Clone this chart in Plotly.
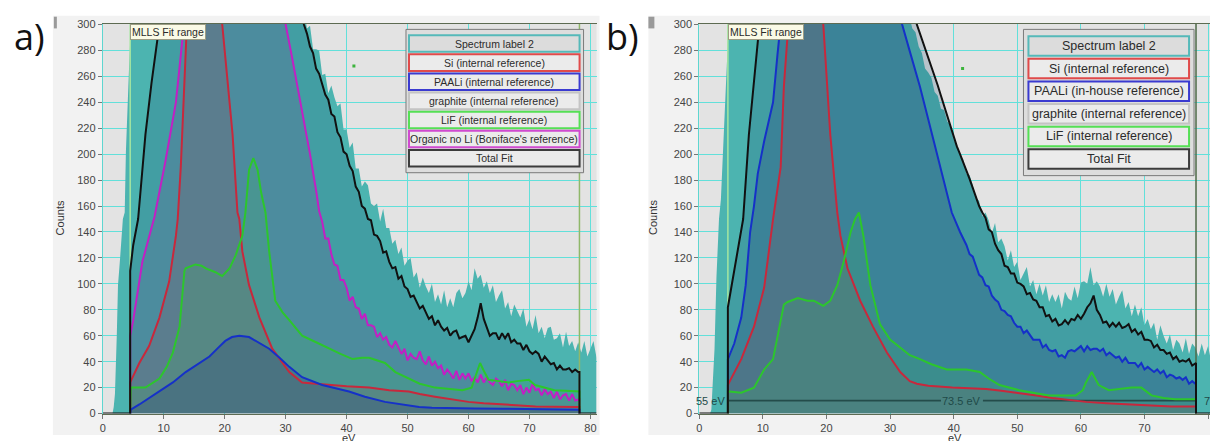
import numpy as np
import plotly.graph_objects as go

W, H = 1210, 441

# ---------------------------------------------------------------- panel a
A_FIT_RANGE = [4.5, 78.2]

A_SPEC_EV = [0, 1.6, 1.8, 2.0, 2.3, 2.5, 2.8, 3.3, 3.6, 3.8, 4.3, 4.6, 5.0, 10, 20, 30]
A_SPEC_CT = [0, 0, 5, 15, 60, 99, 117, 150, 155, 202, 265, 300, 400, 900, 1500, 520]
A_SPEC_TAIL_START = 33.0
A_SPEC_TAIL = [312, 297, 299, 281, 281, 280, 261, 262, 247, 253, 244, 237, 239, 219, 219, 205,
               209, 189, 189, 175, 179, 176, 162, 160, 162, 148, 158, 143, 143, 131, 134, 123,
               128, 114, 118, 120, 105, 109, 97, 105, 98, 93, 100, 86, 92, 84, 95, 82, 89, 82,
               93, 96, 89, 93, 102, 95, 112, 104, 107, 97, 102, 93, 99, 86, 91, 95, 81, 86, 75,
               84, 79, 74, 81, 67, 73, 65, 76, 62, 67, 58, 66, 67, 57, 58, 62, 51, 63, 52, 56,
               48, 55, 47, 56, 44, 50, 56, 43]

A_TOTAL_EV = [0, 4.5, 4.5, 5.0, 5.8, 7.0, 8.0, 9.3, 12, 20, 28]
A_TOTAL_CT = [0, 0, 110, 130, 150, 215, 255, 300, 430, 650, 420]
A_TOTAL_TAIL_START = 33.0
A_TOTAL_TAIL = [300, 293, 283, 278, 266, 262, 254, 246, 242, 231, 229, 217, 213, 202, 200, 191,
                187, 175, 171, 160, 158, 150, 149, 138, 137, 133, 124, 125, 117, 112, 113, 104,
                106, 98, 96, 90, 91, 86, 81, 83, 78, 73, 75, 68, 72, 67, 64, 66, 60, 63, 64, 58,
                59, 60, 55, 60, 65, 74, 85, 73, 67, 60, 62, 62, 57, 62, 58, 62, 55, 57, 54, 54,
                49, 53, 48, 46, 48, 46, 40, 44, 41, 38, 39, 34, 37, 34, 34, 35, 32, 34, 32]

A_ORG_EV = [4.5, 4.5, 5.0, 6.5, 8.5, 10.3, 12.0, 13.1, 13.5, 20, 27, 30, 31, 32, 33, 34, 35, 35.5]
A_ORG_CT = [0, 60, 72, 117, 152, 195, 240, 290, 300, 600, 420, 300, 276, 251, 226, 200, 172, 156]
A_ORG_TAIL_START = 36.0
A_ORG_TAIL = [148, 135, 135, 123, 115, 114, 103, 103, 97, 87, 90, 82, 81, 73, 77, 68, 68, 67, 59,
              62, 57, 59, 53, 51, 56, 51, 46, 50, 41, 46, 43, 42, 48, 41, 38, 44, 37, 40, 35, 37,
              30, 34, 31, 27, 33, 26, 31, 27, 31, 25, 28, 24, 30, 24, 28, 24, 22, 27, 25, 21, 26,
              18, 23, 22, 18, 22, 15, 20, 16, 23, 18, 19, 14, 19, 15, 17, 12, 17, 11, 14, 15, 10,
              15, 10, 11]

A_SI_EV = [4.5, 4.5, 6.0, 7.6, 9.3, 10.9, 12.0, 12.3, 12.8, 13.5, 13.8, 16, 18, 19.6, 21.3, 22.1,
           22.4, 22.9, 24, 25.7, 27.8, 30.6, 32.7, 35, 37.1, 40, 43.7, 47, 50.2, 52, 54.5, 57, 60,
           62.5, 65.5, 68, 71, 74, 78]
A_SI_CT = [0, 24, 39, 52, 74, 102, 137, 150, 190, 265, 300, 450, 400, 300, 215, 155, 150, 125, 99,
           74, 50, 32, 24, 23, 22, 21, 20, 18, 17, 15, 13, 11, 9, 8, 7, 6.5, 5.5, 5.3, 5]

A_PAALI_EV = [4.5, 4.6, 6.0, 8.2, 9.8, 11.5, 13.6, 15.5, 17.5, 19.0, 20.1, 21.2, 22.4, 24.0, 25.5,
              27.3, 29, 30.6, 32.7, 36, 40.4, 43, 46.3, 49, 51.9, 54, 57.3, 61, 65.5, 70, 74, 78]
A_PAALI_CT = [0, 3, 7, 14, 19, 24, 32, 38, 44, 51, 56, 59, 60, 59, 55, 50, 43, 36, 28, 22, 17, 13,
              9, 7, 5, 4.5, 4, 3.8, 3.7, 3.4, 3.2, 3]

A_LIF_EV = [4.5, 4.6, 7, 9.3, 10.5, 11.5, 12.6, 13.4, 13.6, 15.2, 16.2, 16.9, 18.5, 19.6, 20.8,
            21.8, 22.9, 23.4, 24.0, 24.7, 25.4, 26.0, 26.7, 27.3, 28.3, 29.5, 30.6, 32.7, 35, 37.1,
            39, 41, 42.5, 43.7, 45, 46.3, 48, 50.2, 52, 54.5, 57, 59, 60.5, 61.0, 61.4, 61.9, 62.5,
            63.3, 65, 66.6, 68, 69.5, 69.9, 70.9, 72.5, 74.1, 76, 78]
A_LIF_CT = [0, 20, 20, 27, 36, 47, 67, 110, 112, 115, 114, 112, 109, 106, 112, 122, 137, 155, 188,
            197, 188, 170, 155, 125, 87, 78, 72, 60, 55, 50, 46, 42, 43, 43, 41, 39, 32, 27, 23,
            20, 19, 18, 20, 27, 32, 39, 33, 26, 25, 24, 25, 26, 26, 22, 20, 18, 17.5, 17]

A_DOT = ([41.2], [268])

# ---------------------------------------------------------------- panel b
B_FIT_RANGE = [4.5, 78.1]

B_SPEC_EV = [0, 1.7, 1.9, 2.4, 2.7, 3.1, 3.4, 3.9, 4.5, 4.8, 10, 20, 30]
B_SPEC_CT = [0, 0, 3, 50, 105, 150, 165, 227, 290, 330, 900, 1500, 520]
B_SPEC_TAIL_START = 33.0
B_SPEC_TAIL = [307, 297, 294, 283, 278, 266, 263, 259, 248, 245, 235, 234, 225, 223, 211, 207,
               199, 196, 185, 184, 176, 166, 164, 152, 155, 149, 139, 147, 132, 135, 129, 118,
               126, 113, 117, 103, 108, 113, 98, 103, 92, 100, 91, 99, 86, 92, 86, 92, 81, 94,
               89, 87, 98, 89, 101, 102, 100, 113, 99, 102, 98, 90, 100, 90, 96, 84, 90, 95, 81,
               86, 75, 84, 75, 82, 68, 73, 65, 70, 57, 68, 60, 54, 61, 49, 57, 54, 47, 58, 46,
               54, 51, 44, 54, 45, 52, 40, 47]

B_TOTAL_EV = [0, 4.5, 4.5, 5.3, 6.1, 6.9, 7.8, 9.2, 9.5, 12, 20, 28]
B_TOTAL_CT = [0, 0, 82, 105, 125, 150, 215, 290, 300, 430, 650, 420]
B_TOTAL_TAIL_START = 34.0
B_TOTAL_TAIL = [303, 296, 289, 282, 275, 268, 261, 253, 245, 237, 229, 221, 213, 206, 200, 194,
                188, 181, 174, 167, 160, 155,
                151, 142, 140, 131, 126, 123, 114, 113, 108, 108, 101, 100, 98, 92, 93, 88, 87,
                82, 82, 75, 76, 71, 73, 68, 69, 72, 69, 73, 72, 76, 73, 77, 82, 85, 91, 80, 76,
                70, 71, 67, 70, 67, 70, 66, 67, 69, 63, 65, 61, 63, 57, 57, 56, 51, 53, 49, 49,
                46, 47, 42, 44, 40, 41, 40, 42, 37, 39]

B_PAALI_EV = [4.5, 4.5, 5.5, 6.6, 7.3, 8.0, 8.6, 9.2, 10.2, 11.6, 12.3, 12.8, 20, 28, 31.9, 33,
              34.7, 36, 37.3, 38.5, 39.7, 41]
B_PAALI_CT = [0, 42, 54, 74, 99, 140, 160, 185, 210, 240, 277, 300, 650, 420, 300, 281, 252, 227,
              202, 177, 155, 140]
B_PAALI_TAIL_START = 42.0
B_PAALI_TAIL = [130, 123, 121, 114, 107, 105, 99, 98, 91, 88, 86, 80, 79, 76, 75, 70, 67, 67, 62,
                64, 60, 57, 57, 57, 51, 53, 49, 48, 49, 44, 45, 43, 48, 49, 48, 50, 52, 48, 52,
                49, 50, 50, 48, 50, 45, 47, 45, 43, 44, 40, 43, 39, 39, 39, 36, 39, 34, 36, 34,
                32, 34, 31, 33, 28, 30, 29, 27, 28, 26, 28, 23, 25, 23]

B_SI_EV = [4.5, 4.5, 4.7, 6.6, 8.6, 10.2, 11.6, 12.8, 13.3, 13.9, 16.5, 19.5, 20.6, 21.7, 22.2,
           23.3, 25.3, 27.3, 29.5, 31.6, 33.1, 34.2, 36, 39.8, 42.5, 45.1, 47.5, 50.3, 53, 55.5,
           58, 60.8, 64, 68, 71, 74.2, 78]
B_SI_CT = [0, 22, 24, 42, 67, 97, 150, 190, 252, 300, 470, 300, 215, 155, 137, 112, 87, 67, 47,
           32, 25, 23, 21.5, 20, 19.5, 19, 17.5, 16, 14, 12, 10.5, 9, 8, 7, 6.5, 5.5, 5.5]

B_LIF_EV = [4.5, 4.5, 4.7, 6.6, 8.6, 10.2, 11.6, 12.3, 13.3, 13.9, 15.5, 17, 18, 19.5, 20.6, 21.7,
            22.7, 23.8, 24.5, 25.1, 25.8, 26.9, 28.4, 30, 31.6, 33.1, 34.7, 36.5, 38.9, 42, 44.1,
            45.5, 47.2, 50.3, 52.5, 55, 57, 59.2, 60.3, 60.8, 61.7, 62.3, 62.8, 64.4, 66, 68,
            69.5, 70.3, 71.1, 73, 74.8, 78]
B_LIF_CT = [0, 17, 17, 16, 20, 34, 42, 59, 84, 86, 89, 87, 87, 83, 87, 99, 117, 140, 150, 155,
            137, 99, 69, 57, 51, 45, 42, 38, 34, 34, 32, 27, 22, 18, 16, 14, 14, 14, 18, 24, 32,
            27, 22, 18, 19, 20, 20, 17, 14, 12, 11, 11]

B_DOT = ([41.4], [266])

# energy-window readout drawn across panel b
B_WINDOW_Y = 10
B_WINDOW_GAP = [38.0, 44.6]
B_WINDOW_LABELS = ["55 eV", "73.5 eV", "78 eV"]

LEGEND_A = ["Spectrum label 2", "Si (internal reference)", "PAALi (internal reference)",
            "graphite (internal reference)", "LiF (internal reference)",
            "Organic no Li (Boniface's reference)", "Total Fit"]
LEGEND_A_EDGE = ["#55b9b9", "#e04a4a", "#3a3ad0", "#c4c4c4", "#55e055", "#d04ad0", "#3c3c3c"]
LEGEND_B = ["Spectrum label 2", "Si (internal reference)", "PAALi (in-house reference)",
            "graphite (internal reference)", "LiF (internal reference)", "Total Fit"]
LEGEND_B_EDGE = ["#55b9b9", "#e04a4a", "#3a3ad0", "#c4c4c4", "#55e055", "#3c3c3c"]

# ---------------------------------------------------------------- styles
SPEC_FILL = "rgb(76,180,176)"
TOTAL_FILL = "rgba(30,80,120,0.22)"
ORG_FILL = "rgba(120,60,140,0.18)"
SI_FILL = "rgba(160,60,70,0.18)"
LIF_FILL = "rgba(60,200,80,0.15)"
PAALI_FILL = "rgba(40,50,120,0.25)"

TOTAL_LINE = "#111111"
ORG_LINE = "#c21fc4"
SI_LINE = "#c8283c"
LIF_LINE = "#2cc62c"
PAALI_LINE = "#1531c8"

FONT = "Liberation Sans"
GRID = "#62e0da"


def with_tail(head_x, head_y, start, tail, end_x=None):
    """Join a hand-read head with a 0.5 eV sampled tail; optionally drop to zero at end_x."""
    tx = start + 0.5 * np.arange(len(tail))
    x = list(head_x) + list(tx)
    y = list(head_y) + list(tail)
    if end_x is not None:
        x += [end_x, end_x]
        y += [tail[-1], 0]
    return x, y


def closed(x, y, end_x):
    return list(x) + [end_x, end_x], list(y) + [y[-1], 0]


def fill_tr(x, y, color, xa, ya):
    return go.Scatter(x=x, y=y, mode="lines", line=dict(width=0, color=color), fill="tozeroy",
                      fillcolor=color, xaxis=xa, yaxis=ya, hoverinfo="skip", showlegend=False)


def line_tr(x, y, color, xa, ya, width=2.0):
    return go.Scatter(x=x, y=y, mode="lines", line=dict(width=width, color=color),
                      xaxis=xa, yaxis=ya, hoverinfo="skip", showlegend=False,
                      connectgaps=False)


fig = go.Figure()


def add_panel(xa, ya, spec, total, comps, fit_range, fit_colors, dot, extra=()):
    # comps: list of (x, y, fill, line)
    fig.add_trace(fill_tr(spec[0], spec[1], SPEC_FILL, xa, ya))
    fig.add_trace(fill_tr(total[0], total[1], TOTAL_FILL, xa, ya))
    for cx, cy, cf, _ in comps:
        fig.add_trace(fill_tr(cx, cy, cf, xa, ya))
    for tr in extra:
        fig.add_trace(tr)
    for fx, fc in zip(fit_range, fit_colors):
        fig.add_trace(line_tr([fx, fx], [0, 300.75], fc, xa, ya, width=1.5))
    for cx, cy, _, cl in comps:
        fig.add_trace(line_tr(cx, cy, cl, xa, ya, width=2.0))
    fig.add_trace(line_tr(total[0], total[1], TOTAL_LINE, xa, ya, width=2.0))
    fig.add_trace(go.Scatter(x=dot[0], y=dot[1], mode="markers",
                             marker=dict(symbol="square", size=3, color="#3cb43c"),
                             xaxis=xa, yaxis=ya, hoverinfo="skip", showlegend=False))


# panel a series
a_spec = with_tail(A_SPEC_EV, A_SPEC_CT, A_SPEC_TAIL_START, A_SPEC_TAIL)
a_tot_x, a_tot_y = with_tail(A_TOTAL_EV, A_TOTAL_CT, A_TOTAL_TAIL_START, A_TOTAL_TAIL, A_FIT_RANGE[1])
a_tot_x += [81]
a_tot_y += [0]
a_org = with_tail(A_ORG_EV, A_ORG_CT, A_ORG_TAIL_START, A_ORG_TAIL, A_FIT_RANGE[1])
a_si = closed(A_SI_EV, A_SI_CT, A_FIT_RANGE[1])
a_paali = closed(A_PAALI_EV, A_PAALI_CT, A_FIT_RANGE[1])
a_lif = closed(A_LIF_EV, A_LIF_CT, A_FIT_RANGE[1])

add_panel("x", "y", a_spec, (a_tot_x, a_tot_y),
          [(a_org[0], a_org[1], ORG_FILL, ORG_LINE),
           (a_si[0], a_si[1], SI_FILL, SI_LINE),
           (a_lif[0], a_lif[1], LIF_FILL, LIF_LINE),
           (a_paali[0], a_paali[1], PAALI_FILL, PAALI_LINE)],
          A_FIT_RANGE, ["#a6e6a0", "#8fb86a"], A_DOT)

# panel b series
b_spec = with_tail(B_SPEC_EV, B_SPEC_CT, B_SPEC_TAIL_START, B_SPEC_TAIL)
b_tot_x, b_tot_y = with_tail(B_TOTAL_EV, B_TOTAL_CT, B_TOTAL_TAIL_START, B_TOTAL_TAIL, B_FIT_RANGE[1])
b_tot_x += [80.3]
b_tot_y += [0]
b_paali = with_tail(B_PAALI_EV, B_PAALI_CT, B_PAALI_TAIL_START, B_PAALI_TAIL, B_FIT_RANGE[1])
b_si = closed(B_SI_EV, B_SI_CT, B_FIT_RANGE[1])
b_lif = closed(B_LIF_EV, B_LIF_CT, B_FIT_RANGE[1])

# window readout line, drawn above the fills and below the curves
window_line = line_tr([B_FIT_RANGE[0], B_WINDOW_GAP[0], None, B_WINDOW_GAP[1], B_FIT_RANGE[1]],
                      [B_WINDOW_Y, B_WINDOW_Y, None, B_WINDOW_Y, B_WINDOW_Y],
                      "#244c4a", "x2", "y2", 1.6)

add_panel("x2", "y2", b_spec, (b_tot_x, b_tot_y),
          [(b_paali[0], b_paali[1], PAALI_FILL, PAALI_LINE),
           (b_si[0], b_si[1], SI_FILL, SI_LINE),
           (b_lif[0], b_lif[1], LIF_FILL, LIF_LINE)],
          B_FIT_RANGE, ["#a6e6a0", "#4e6a48"], B_DOT, extra=[window_line])

# ---------------------------------------------------------------- layout
DOM_Y = [1 - 419 / H, 1 - 19 / H]


def xaxis(dom, rng, anchor):
    return dict(domain=dom, range=rng, tick0=0, dtick=10, showgrid=True, gridcolor=GRID,
                gridwidth=1, zeroline=False, ticks="outside", ticklen=4, tickcolor="#777",
                tickfont=dict(family=FONT, size=11, color="#454545"), showline=True,
                linecolor="#5d6b52", linewidth=1, mirror=True, fixedrange=True, anchor=anchor)


def yaxis(anchor):
    return dict(domain=DOM_Y, range=[0, 300.75], tick0=0, dtick=20, showgrid=True,
                gridcolor=GRID, gridwidth=1, zeroline=False, ticks="outside", ticklen=4,
                tickcolor="#777", tickfont=dict(family=FONT, size=11, color="#454545"),
                showline=True, linecolor="#5ed6d0", linewidth=1, anchor=anchor, fixedrange=True)


def px_x(px):
    return px / W


def px_y(py):
    return 1 - py / H


shapes = []
annotations = []

# widget panels and plot backgrounds
for x0, x1 in [(50, 598), (647, 1210)]:
    shapes.append(dict(type="rect", xref="paper", yref="paper", x0=px_x(x0), x1=px_x(x1),
                       y0=0, y1=px_y(11), fillcolor="#f2f2f2", line=dict(width=0), layer="below"))
for x0, x1 in [(100, 595), (698, 1210)]:
    shapes.append(dict(type="rect", xref="paper", yref="paper", x0=px_x(x0), x1=px_x(x1),
                       y0=DOM_Y[0], y1=DOM_Y[1], fillcolor="#e3e3e3", line=dict(width=0),
                       layer="below"))
# small scroll handles
for x0, x1 in [(51, 54), (647, 653)]:
    shapes.append(dict(type="rect", xref="paper", yref="paper", x0=px_x(x0), x1=px_x(x1),
                       y0=px_y(24), y1=px_y(12), fillcolor="#9a9a9a", line=dict(width=0)))


def legend(labels, edges, box, ex0, ex1, ey0, eh, pitch, fsize):
    bx0, by0, bx1, by1 = box
    shapes.append(dict(type="rect", xref="paper", yref="paper", x0=px_x(bx0), x1=px_x(bx1),
                       y0=px_y(by1), y1=px_y(by0), fillcolor="#dddddd",
                       line=dict(color="#7a7a7a", width=1)))
    for i, (lab, ec) in enumerate(zip(labels, edges)):
        t = ey0 + i * pitch
        shapes.append(dict(type="rect", xref="paper", yref="paper", x0=px_x(ex0), x1=px_x(ex1),
                           y0=px_y(t + eh), y1=px_y(t),
                           fillcolor="#dcdcdc" if i == 0 else "#ebebeb",
                           line=dict(color=ec, width=2)))
        annotations.append(dict(xref="paper", yref="paper", x=px_x((ex0 + ex1) / 2),
                                y=px_y(t + eh / 2), text=lab, showarrow=False,
                                xanchor="center", yanchor="middle",
                                font=dict(family=FONT, size=fsize, color="#2b2b2b")))


legend(LEGEND_A, LEGEND_A_EDGE, (404, 25, 582, 172), 407, 578, 31, 17, 19.6, 10.5)
legend(LEGEND_B, LEGEND_B_EDGE, (1023, 25, 1194, 175), 1028, 1189, 32, 20, 23.2, 12.5)

# fit range tags
for xr in ["x", "x2"]:
    annotations.append(dict(xref=xr, yref="paper", x=4.5, y=DOM_Y[1], xanchor="left",
                            yanchor="top", text="MLLS Fit range", showarrow=False,
                            bgcolor="#fafae6", bordercolor="#9c9c84", borderwidth=1, borderpad=1,
                            font=dict(family=FONT, size=10.5, color="#2a2a2a")))

# window readout labels
annotations.append(dict(xref="x2", yref="y2", x=4.4, y=B_WINDOW_Y, xanchor="right",
                        yanchor="middle", text=B_WINDOW_LABELS[0], showarrow=False,
                        font=dict(family=FONT, size=11, color="#1f4a48")))
annotations.append(dict(xref="x2", yref="y2", x=sum(B_WINDOW_GAP) / 2, y=B_WINDOW_Y,
                        xanchor="center", yanchor="middle", text=B_WINDOW_LABELS[1],
                        showarrow=False, font=dict(family=FONT, size=11, color="#1f4a48")))
annotations.append(dict(xref="x2", yref="y2", x=79.0, y=B_WINDOW_Y, xanchor="left",
                        yanchor="middle", text=B_WINDOW_LABELS[2], showarrow=False,
                        font=dict(family=FONT, size=11, color="#1f4a48")))

# axis titles
for cx in [57, 651]:
    annotations.append(dict(xref="paper", yref="paper", x=px_x(cx), y=px_y(218), text="Counts",
                            textangle=-90, showarrow=False, xanchor="center", yanchor="middle",
                            font=dict(family=FONT, size=11, color="#333")))
for cx in [347, 954]:
    annotations.append(dict(xref="paper", yref="paper", x=px_x(cx), y=px_y(436.5), text="eV",
                            showarrow=False, xanchor="center", yanchor="top", borderpad=0,
                            font=dict(family=FONT, size=11, color="#333")))

# panel letters
for cx, lab in [(27, "a)"), (621, "b)")]:
    annotations.append(dict(xref="paper", yref="paper", x=px_x(cx), y=px_y(32), text=lab,
                            showarrow=False, xanchor="center", yanchor="middle",
                            font=dict(family="Open Sans", size=36, color="#111")))

fig.update_layout(
    width=W, height=H, margin=dict(l=0, r=0, t=0, b=0),
    paper_bgcolor="white", plot_bgcolor="rgba(0,0,0,0)",
    xaxis=xaxis([100 / W, 595 / W], [0, 81.0], "y"),
    yaxis=yaxis("x"),
    xaxis2=xaxis([698 / W, 1.0], [0, 80.3], "y2"),
    yaxis2=yaxis("x2"),
    shapes=shapes, annotations=annotations, showlegend=False,
)

fig.write_html("out.html")
